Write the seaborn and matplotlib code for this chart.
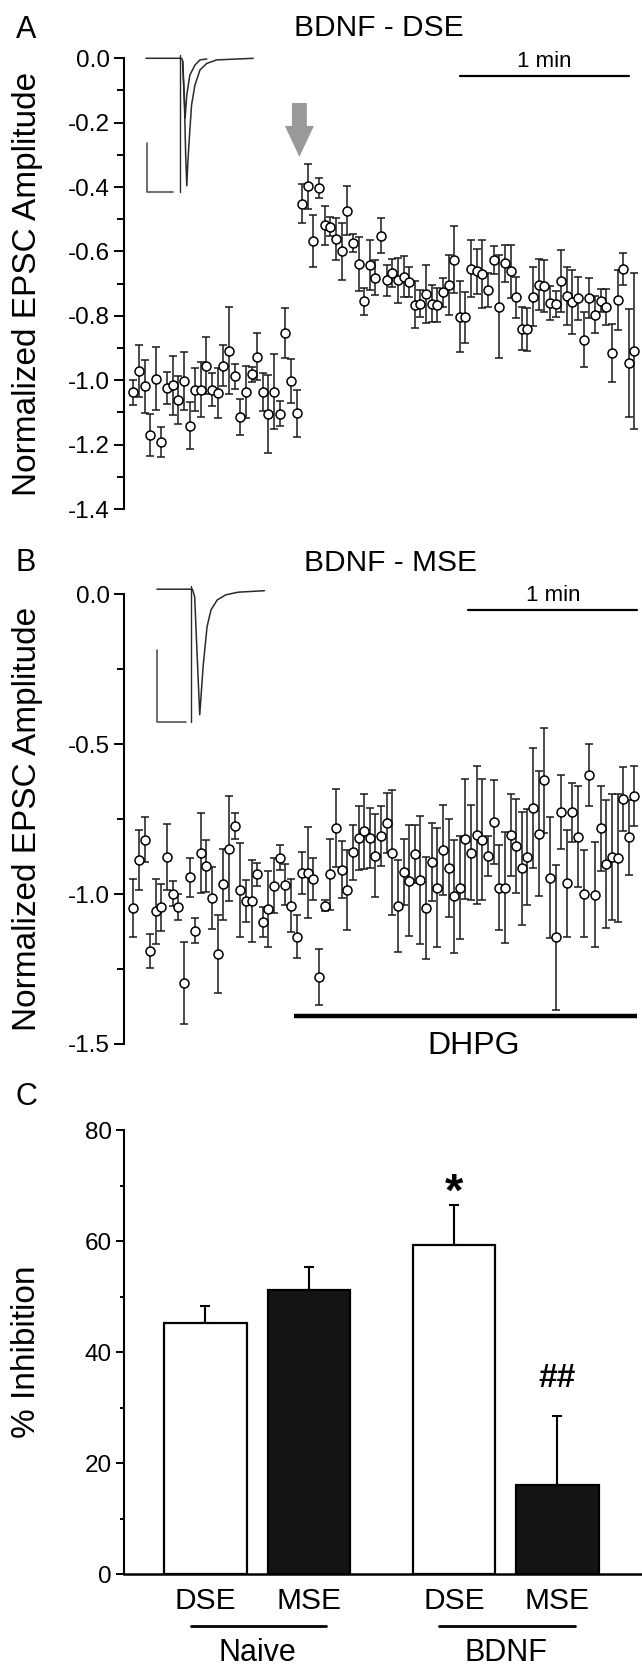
import numpy as np
import matplotlib
matplotlib.use('Agg')
import matplotlib.pyplot as plt
import seaborn as sns
from matplotlib.ticker import MultipleLocator, FormatStrFormatter
from matplotlib.transforms import blended_transform_factory

# ---- data ----
# sample times (s), one point every 2 s
TIME = np.arange(90) * 2.0

# Panel A: BDNF - DSE, normalized EPSC amplitude (mean, sem)
A_MEAN = [-1.038, -0.971, -1.019, -1.169, -0.995, -1.192, -1.024, -1.016, -1.062, -1.003,
          -1.142, -1.029, -1.029, -0.955, -1.029, -1.039, -0.955, -0.909, -0.988, -1.114,
          -1.036, -0.981, -0.927, -1.036, -1.106, -1.036, -1.104, -0.853, -1.003, -1.102,
          -0.452, -0.398, -0.567, -0.403, -0.519, -0.523, -0.562, -0.600, -0.473, -0.573,
          -0.639, -0.755, -0.642, -0.681, -0.551, -0.690, -0.666, -0.690, -0.678, -0.694,
          -0.766, -0.762, -0.733, -0.762, -0.765, -0.727, -0.704, -0.626, -0.803, -0.805,
          -0.653, -0.662, -0.669, -0.719, -0.626, -0.772, -0.637, -0.662, -0.743, -0.840,
          -0.842, -0.740, -0.703, -0.706, -0.760, -0.763, -0.692, -0.739, -0.757, -0.745,
          -0.874, -0.745, -0.796, -0.753, -0.772, -0.915, -0.752, -0.655, -0.947, -0.909]
A_SEM = [0.039, 0.080, 0.082, 0.065, 0.097, 0.047, 0.049, 0.092, 0.074, 0.091,
         0.073, 0.067, 0.086, 0.088, 0.052, 0.078, 0.064, 0.135, 0.039, 0.057,
         0.081, 0.023, 0.073, 0.059, 0.121, 0.117, 0.039, 0.077, 0.069, 0.073,
         0.061, 0.071, 0.081, 0.031, 0.061, 0.030, 0.065, 0.089, 0.076, 0.028,
         0.085, 0.041, 0.078, 0.054, 0.055, 0.049, 0.044, 0.069, 0.063, 0.047,
         0.073, 0.041, 0.090, 0.057, 0.053, 0.045, 0.093, 0.104, 0.110, 0.079,
         0.088, 0.070, 0.106, 0.052, 0.043, 0.160, 0.057, 0.082, 0.065, 0.066,
         0.066, 0.092, 0.080, 0.081, 0.053, 0.041, 0.097, 0.090, 0.099, 0.067,
         0.085, 0.062, 0.058, 0.036, 0.055, 0.091, 0.093, 0.050, 0.168, 0.241]

# Panel B: BDNF - MSE
B_MEAN = [-1.046, -0.886, -0.818, -1.190, -1.057, -1.044, -0.876, -0.998, -1.044, -1.296,
          -0.944, -1.122, -0.864, -0.906, -1.012, -1.200, -0.967, -0.848, -0.772, -0.987,
          -1.022, -1.023, -0.934, -1.092, -1.050, -0.972, -0.878, -0.968, -1.039, -1.142,
          -0.928, -0.928, -0.950, -1.276, -1.039, -0.934, -0.779, -0.918, -0.987, -0.861,
          -0.812, -0.790, -0.814, -0.872, -0.806, -0.762, -0.862, -1.040, -0.926, -0.956,
          -0.867, -0.953, -1.046, -0.893, -0.978, -0.853, -0.914, -1.007, -0.978, -0.816,
          -0.862, -0.803, -0.818, -0.872, -0.760, -0.978, -0.978, -0.803, -0.840, -0.914,
          -0.876, -0.714, -0.799, -0.620, -0.946, -1.144, -0.727, -0.964, -0.727, -0.809,
          -0.998, -0.603, -1.002, -0.781, -0.900, -0.877, -0.880, -0.683, -0.810, -0.673]
B_SEM = [0.097, 0.099, 0.075, 0.057, 0.109, 0.079, 0.111, 0.042, 0.044, 0.136,
         0.065, 0.041, 0.133, 0.086, 0.104, 0.131, 0.118, 0.174, 0.044, 0.157,
         0.070, 0.138, 0.039, 0.050, 0.126, 0.092, 0.043, 0.070, 0.089, 0.072,
         0.070, 0.152, 0.071, 0.094, 0.018, 0.119, 0.131, 0.095, 0.133, 0.092,
         0.106, 0.125, 0.100, 0.139, 0.100, 0.100, 0.208, 0.154, 0.111, 0.185,
         0.097, 0.214, 0.171, 0.131, 0.198, 0.150, 0.163, 0.189, 0.172, 0.200,
         0.158, 0.231, 0.201, 0.066, 0.140, 0.141, 0.186, 0.137, 0.157, 0.189,
         0.161, 0.200, 0.208, 0.175, 0.202, 0.242, 0.124, 0.179, 0.098, 0.168,
         0.146, 0.103, 0.176, 0.141, 0.213, 0.211, 0.214, 0.108, 0.125, 0.100]

# example EPSC traces (insets), in axis units (s, normalized)
TRACE_A_BIG_T = [4.5, 17.2, 17.6, 18.2, 18.6, 19.0, 19.4, 19.9, 20.7, 21.9, 23.7, 26.1, 29.6, 42.6]
TRACE_A_BIG_V = [0.0, 0.0, -0.01, -0.15, -0.30, -0.396, -0.32, -0.248, -0.145, -0.083, -0.036, -0.016, -0.005, 0.0]
TRACE_A_SMALL_T = [17.5, 18.0, 18.4, 19.0, 20.1, 21.9, 23.7, 26.1]
TRACE_A_SMALL_V = [-0.01, -0.10, -0.186, -0.114, -0.052, -0.021, -0.005, -0.002]
TRACE_B_T = [8.4, 21.0, 21.8, 22.6, 23.6, 24.8, 26.2, 27.6, 29.8, 32.8, 37.2, 46.6]
TRACE_B_V = [0.017, 0.017, -0.008, -0.186, -0.402, -0.241, -0.108, -0.052, -0.019, -0.002, 0.007, 0.012]
ARTIFACT_A = (16.6, 0.01, -0.414)
ARTIFACT_B = (20.6, 0.028, -0.425)
SCALEBAR_A = ([4.7, 4.7, 14.2], [-0.264, -0.414, -0.414])
SCALEBAR_B = ([8.4, 8.4, 18.9], [-0.186, -0.425, -0.425])
MIN_BAR_A = ([116, 176], -0.055)
MIN_BAR_B = ([119, 179], -0.052)
DSE_ARROW = (59, -0.139, -0.306)
DHPG_BAR = ([57, 179], -1.407)

# Panel C: % inhibition
C_GROUP = ['Naive', 'Naive', 'BDNF', 'BDNF']
C_COND = ['DSE', 'MSE', 'DSE', 'MSE']
C_POS = [0.0, 1.0, 2.4, 3.4]
C_INHIB = [45.2, 51.2, 59.2, 16.0]
C_SEM = [3.0, 4.2, 7.3, 12.5]
C_MARKS = [(2.4, '*', 68.6), (3.4, '##', 35.2)]

# ---- style ----
sns.set_theme(style='ticks')
plt.rcParams['font.family'] = ['Liberation Sans', 'DejaVu Sans']
plt.rcParams['axes.unicode_minus'] = False
plt.rcParams['text.color'] = 'black'
plt.rcParams['axes.edgecolor'] = 'black'
plt.rcParams['xtick.color'] = 'black'
plt.rcParams['ytick.color'] = 'black'

W, H = 642, 1667
fig = plt.figure(figsize=(W / 100, H / 100), dpi=100)


def add_ax(left, top, right, bottom):
    return fig.add_axes([left / W, 1 - bottom / H, (right - left) / W, (bottom - top) / H])


def time_panel(ax, mean, sem, ylim, major, minor):
    ax.errorbar(TIME, mean, yerr=sem, fmt='none', ecolor='#1a1a1a',
                elinewidth=1.1, capsize=3.2, capthick=1.1, zorder=2)
    sns.scatterplot(x=TIME, y=mean, marker='o', s=42, color='white',
                    edgecolor='black', linewidth=1.1, zorder=3, ax=ax)
    ax.set_xlim(-3.3, 180.7)
    ax.set_ylim(*ylim)
    for s in ['top', 'right', 'bottom']:
        ax.spines[s].set_visible(False)
    ax.spines['left'].set_linewidth(1.5)
    ax.spines['left'].set_bounds(ylim[0], ylim[1])
    ax.set_xticks([])
    ax.yaxis.set_major_locator(MultipleLocator(major))
    ax.yaxis.set_minor_locator(MultipleLocator(minor))
    ax.yaxis.set_major_formatter(FormatStrFormatter('%.1f'))
    ax.tick_params(axis='y', which='major', length=7, width=1.4, labelsize=17.5, pad=3)
    ax.tick_params(axis='y', which='minor', length=5, width=1.4)


# ---- Panel A ----
axA = add_ax(124, 58.3, 642, 509)
time_panel(axA, A_MEAN, A_SEM, (-1.4, 0.0), 0.2, 0.1)
axA.plot(TRACE_A_BIG_T, TRACE_A_BIG_V, color='#2a2a2a', lw=1.1, clip_on=False)
axA.plot(TRACE_A_SMALL_T, TRACE_A_SMALL_V, color='#2a2a2a', lw=1.1, clip_on=False)
axA.plot([ARTIFACT_A[0]] * 2, ARTIFACT_A[1:], color='#2a2a2a', lw=1.0, clip_on=False)
axA.plot(*SCALEBAR_A, color='#555555', lw=1.2, clip_on=False)
axA.plot(MIN_BAR_A[0], [MIN_BAR_A[1]] * 2, color='black', lw=1.6, clip_on=False)
axA.text(np.mean(MIN_BAR_A[0]), MIN_BAR_A[1] + 0.012, '1 min', ha='center', va='bottom', fontsize=16)
x0, y0, y1 = DSE_ARROW
axA.arrow(x0, y0, 0, y1 - y0, width=5.3, head_width=10.3, head_length=0.096,
          length_includes_head=True, color='#999999', lw=0)

# ---- Panel B ----
axB = add_ax(124, 594.3, 642, 1044)
time_panel(axB, B_MEAN, B_SEM, (-1.5, 0.0), 0.5, 0.25)
axB.plot(TRACE_B_T, TRACE_B_V, color='#2a2a2a', lw=1.1, clip_on=False)
axB.plot([ARTIFACT_B[0]] * 2, ARTIFACT_B[1:], color='#2a2a2a', lw=1.0, clip_on=False)
axB.plot(*SCALEBAR_B, color='#555555', lw=1.2, clip_on=False)
axB.plot(MIN_BAR_B[0], [MIN_BAR_B[1]] * 2, color='black', lw=1.6, clip_on=False)
axB.text(np.mean(MIN_BAR_B[0]), MIN_BAR_B[1] + 0.012, '1 min', ha='center', va='bottom', fontsize=16)
axB.plot(DHPG_BAR[0], [DHPG_BAR[1]] * 2, color='black', lw=3.2, clip_on=False, solid_capstyle='butt')
axB.text(121, -1.455, 'DHPG', ha='center', va='top', fontsize=23)

# ---- Panel C ----
axC = add_ax(124, 1130, 642, 1574)
sns.barplot(x=C_POS, y=C_INHIB, hue=C_COND, palette={'DSE': 'white', 'MSE': '#141414'},
            native_scale=True, dodge=False, width=0.8, edgecolor='black', linewidth=1.6,
            legend=False, errorbar=None, ax=axC, zorder=2)
axC.errorbar(C_POS, C_INHIB, yerr=[np.zeros(len(C_SEM)), C_SEM], fmt='none', ecolor='black',
             elinewidth=1.5, capsize=3.7, capthick=1.5, zorder=1)
axC.set_xlim(-0.787, 4.217)
axC.set_ylim(0, 80)
for s in ['top', 'right']:
    axC.spines[s].set_visible(False)
axC.spines['left'].set_linewidth(1.5)
axC.spines['bottom'].set_linewidth(1.8)
axC.yaxis.set_major_locator(MultipleLocator(20))
axC.yaxis.set_minor_locator(MultipleLocator(10))
axC.tick_params(axis='y', which='major', length=6, width=1.4, labelsize=17.5, pad=3)
axC.tick_params(axis='y', which='minor', length=3, width=1.4)
axC.set_xticks(C_POS, C_COND)
axC.tick_params(axis='x', length=0, labelsize=21.5, pad=9)
axC.set_xlabel('')
axC.set_ylabel('')
for x, sym, y in C_MARKS:
    axC.text(x, y, sym, ha='center', va='center', fontsize=34 if sym == '*' else 24,
             fontweight='bold')
trans = blended_transform_factory(axC.transData, axC.transAxes)
for g in ['Naive', 'BDNF']:
    xs = [p for p, gg in zip(C_POS, C_GROUP) if gg == g]
    axC.plot([xs[0] - 0.144, xs[-1] + 0.166], [-0.117, -0.117], color='black', lw=2.0,
             transform=trans, clip_on=False)
    axC.text(np.mean(xs), -0.178, g, ha='center', va='center', fontsize=22, transform=trans)

# ---- labels ----
fig.text(28 / W, 1 - 283.7 / H, 'Normalized EPSC Amplitude', rotation=90, ha='center', va='center', fontsize=24)
fig.text(28 / W, 1 - 819 / H, 'Normalized EPSC Amplitude', rotation=90, ha='center', va='center', fontsize=24)
fig.text(27 / W, 1 - 1352 / H, '% Inhibition', rotation=90, ha='center', va='center', fontsize=24)
fig.text(379 / W, 1 - 28 / H, 'BDNF - DSE', ha='center', va='center', fontsize=21.5)
fig.text(390 / W, 1 - 563 / H, 'BDNF - MSE', ha='center', va='center', fontsize=21.5)
for letter, y in [('A', 30), ('B', 563), ('C', 1097)]:
    fig.text(26 / W, 1 - y / H, letter, ha='center', va='center', fontsize=22)

fig.savefig('out.png', dpi=100)
